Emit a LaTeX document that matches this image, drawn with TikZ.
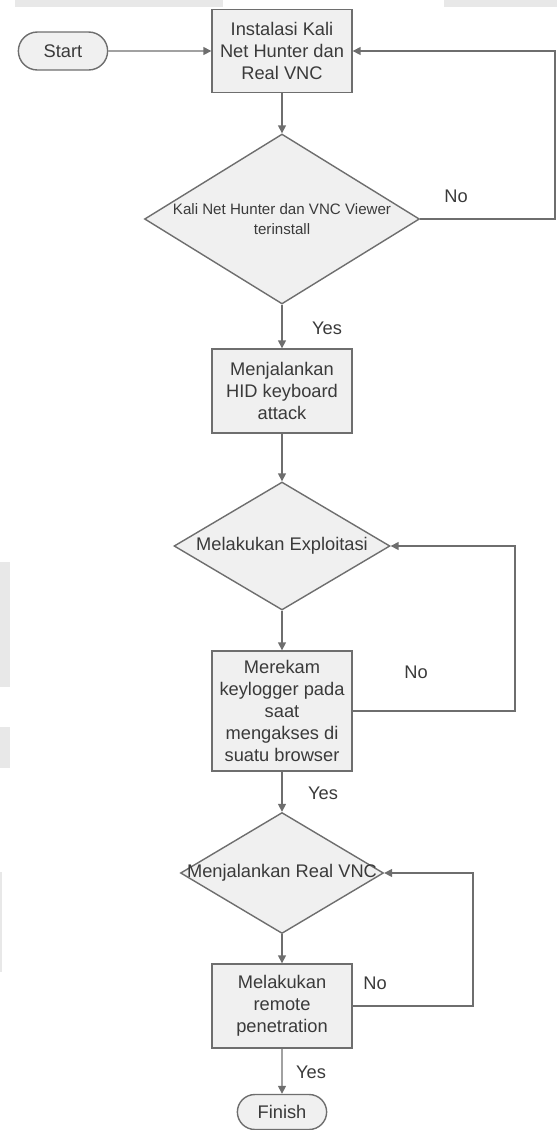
\documentclass[tikz,border=0pt]{standalone}
\usepackage{fontspec}
\setmainfont{Liberation Sans}
\usetikzlibrary{shapes.geometric,shapes.misc,arrows.meta}
\definecolor{linegray}{HTML}{6E6E6E}
\definecolor{boxgray}{HTML}{F0F0F0}
\definecolor{txtgray}{HTML}{3A3A3A}
\definecolor{scrapgray}{HTML}{E8E8E8}
\tikzset{
  proc/.style={shape=rectangle,draw=linegray,fill=boxgray,line width=0.8pt,minimum width=2.8cm,align=center,inner sep=0pt},
  term/.style={shape=rounded rectangle,draw=linegray,fill=boxgray,line width=0.8pt,minimum width=2.02cm,minimum height=0.76cm},
  decision/.style={shape=diamond,draw=linegray,fill=boxgray,line width=0.8pt,inner sep=0pt},
  flow/.style={draw=linegray,line width=0.8pt,-{Triangle[length=4.5pt,width=4.5pt]}},
  lbl/.style={inner sep=0pt}
}
\begin{document}
\begin{tikzpicture}[x=0.02cm,y=-0.02cm,font=\fontsize{10.4pt}{12.5pt}\selectfont,text=txtgray]
                \useasboundingbox (0,0) rectangle (557,1130);
                % scraps of the page around the figure
                \fill[scrapgray] (15,0) rectangle (223,7);
                \fill[scrapgray] (444,0) rectangle (557,7);
                \fill[scrapgray] (0,562) rectangle (10,687);
                \fill[scrapgray] (0,727) rectangle (10,768);
                \fill[scrapgray] (0,872) rectangle (2,972);

                \node[term] (0) at (63,51) {Start};
                \node[proc,minimum height=1.66cm] (1) at (282,51) {Instalasi Kali\\Net Hunter dan\\Real VNC};
                \node[decision,minimum width=5.5cm,minimum height=3.4cm] (2) at (282,219) {};
                \node[lbl,font=\fontsize{8.6pt}{11.4pt}\selectfont,align=center] (2t) at (2) {Kali Net Hunter dan VNC Viewer\\terinstall};
                \node[proc,minimum height=1.68cm] (3) at (282,391) {Menjalankan\\HID keyboard\\attack};
                \node[decision,minimum width=4.32cm,minimum height=2.56cm] (4) at (282,546) {};
                \node[lbl] (4t) at (4) {Melakukan Exploitasi};
                \node[proc,minimum height=2.4cm] (5) at (282,711) {Merekam\\keylogger pada\\saat\\mengakses di\\suatu browser};
                \node[decision,minimum width=4.06cm,minimum height=2.42cm] (6) at (282,873) {};
                \node[lbl] (6t) at (6) {Menjalankan Real VNC};
                \node[proc,minimum height=1.68cm] (7) at (282,1006) {Melakukan\\remote\\penetration};
                \node[term,minimum height=0.7cm] (8) at (282,1112) {Finish};

                \node[lbl] (no1) at (456,196) {No};
                \node[lbl] (no2) at (416,672) {No};
                \node[lbl] (no3) at (375,983) {No};
                \node[lbl] (yes1) at (327,328) {Yes};
                \node[lbl] (yes2) at (323,793) {Yes};
                \node[lbl] (yes3) at (311,1072) {Yes};

                \coordinate (r1) at (555,135);
                \coordinate (r2) at (515,630);
                \coordinate (r3) at (473,940);

                \draw[flow] (0) -- (1);
                \draw[flow] (1) -- (2);
                \draw[flow] (2) -- (3);
                \draw[flow] (3) -- (4);
                \draw[flow] (4) -- (5);
                \draw[flow] (5) -- (6);
                \draw[flow] (6) -- (7);
                \draw[flow] (7) -- (8);

                \draw[flow] (2.east) -| (r1) |- (1.east);
                \draw[flow] (5.east) -| (r2) |- (4.east);
                \draw[flow] (7.east) -| (r3) |- (6.east);
            \end{tikzpicture}
\end{document}
